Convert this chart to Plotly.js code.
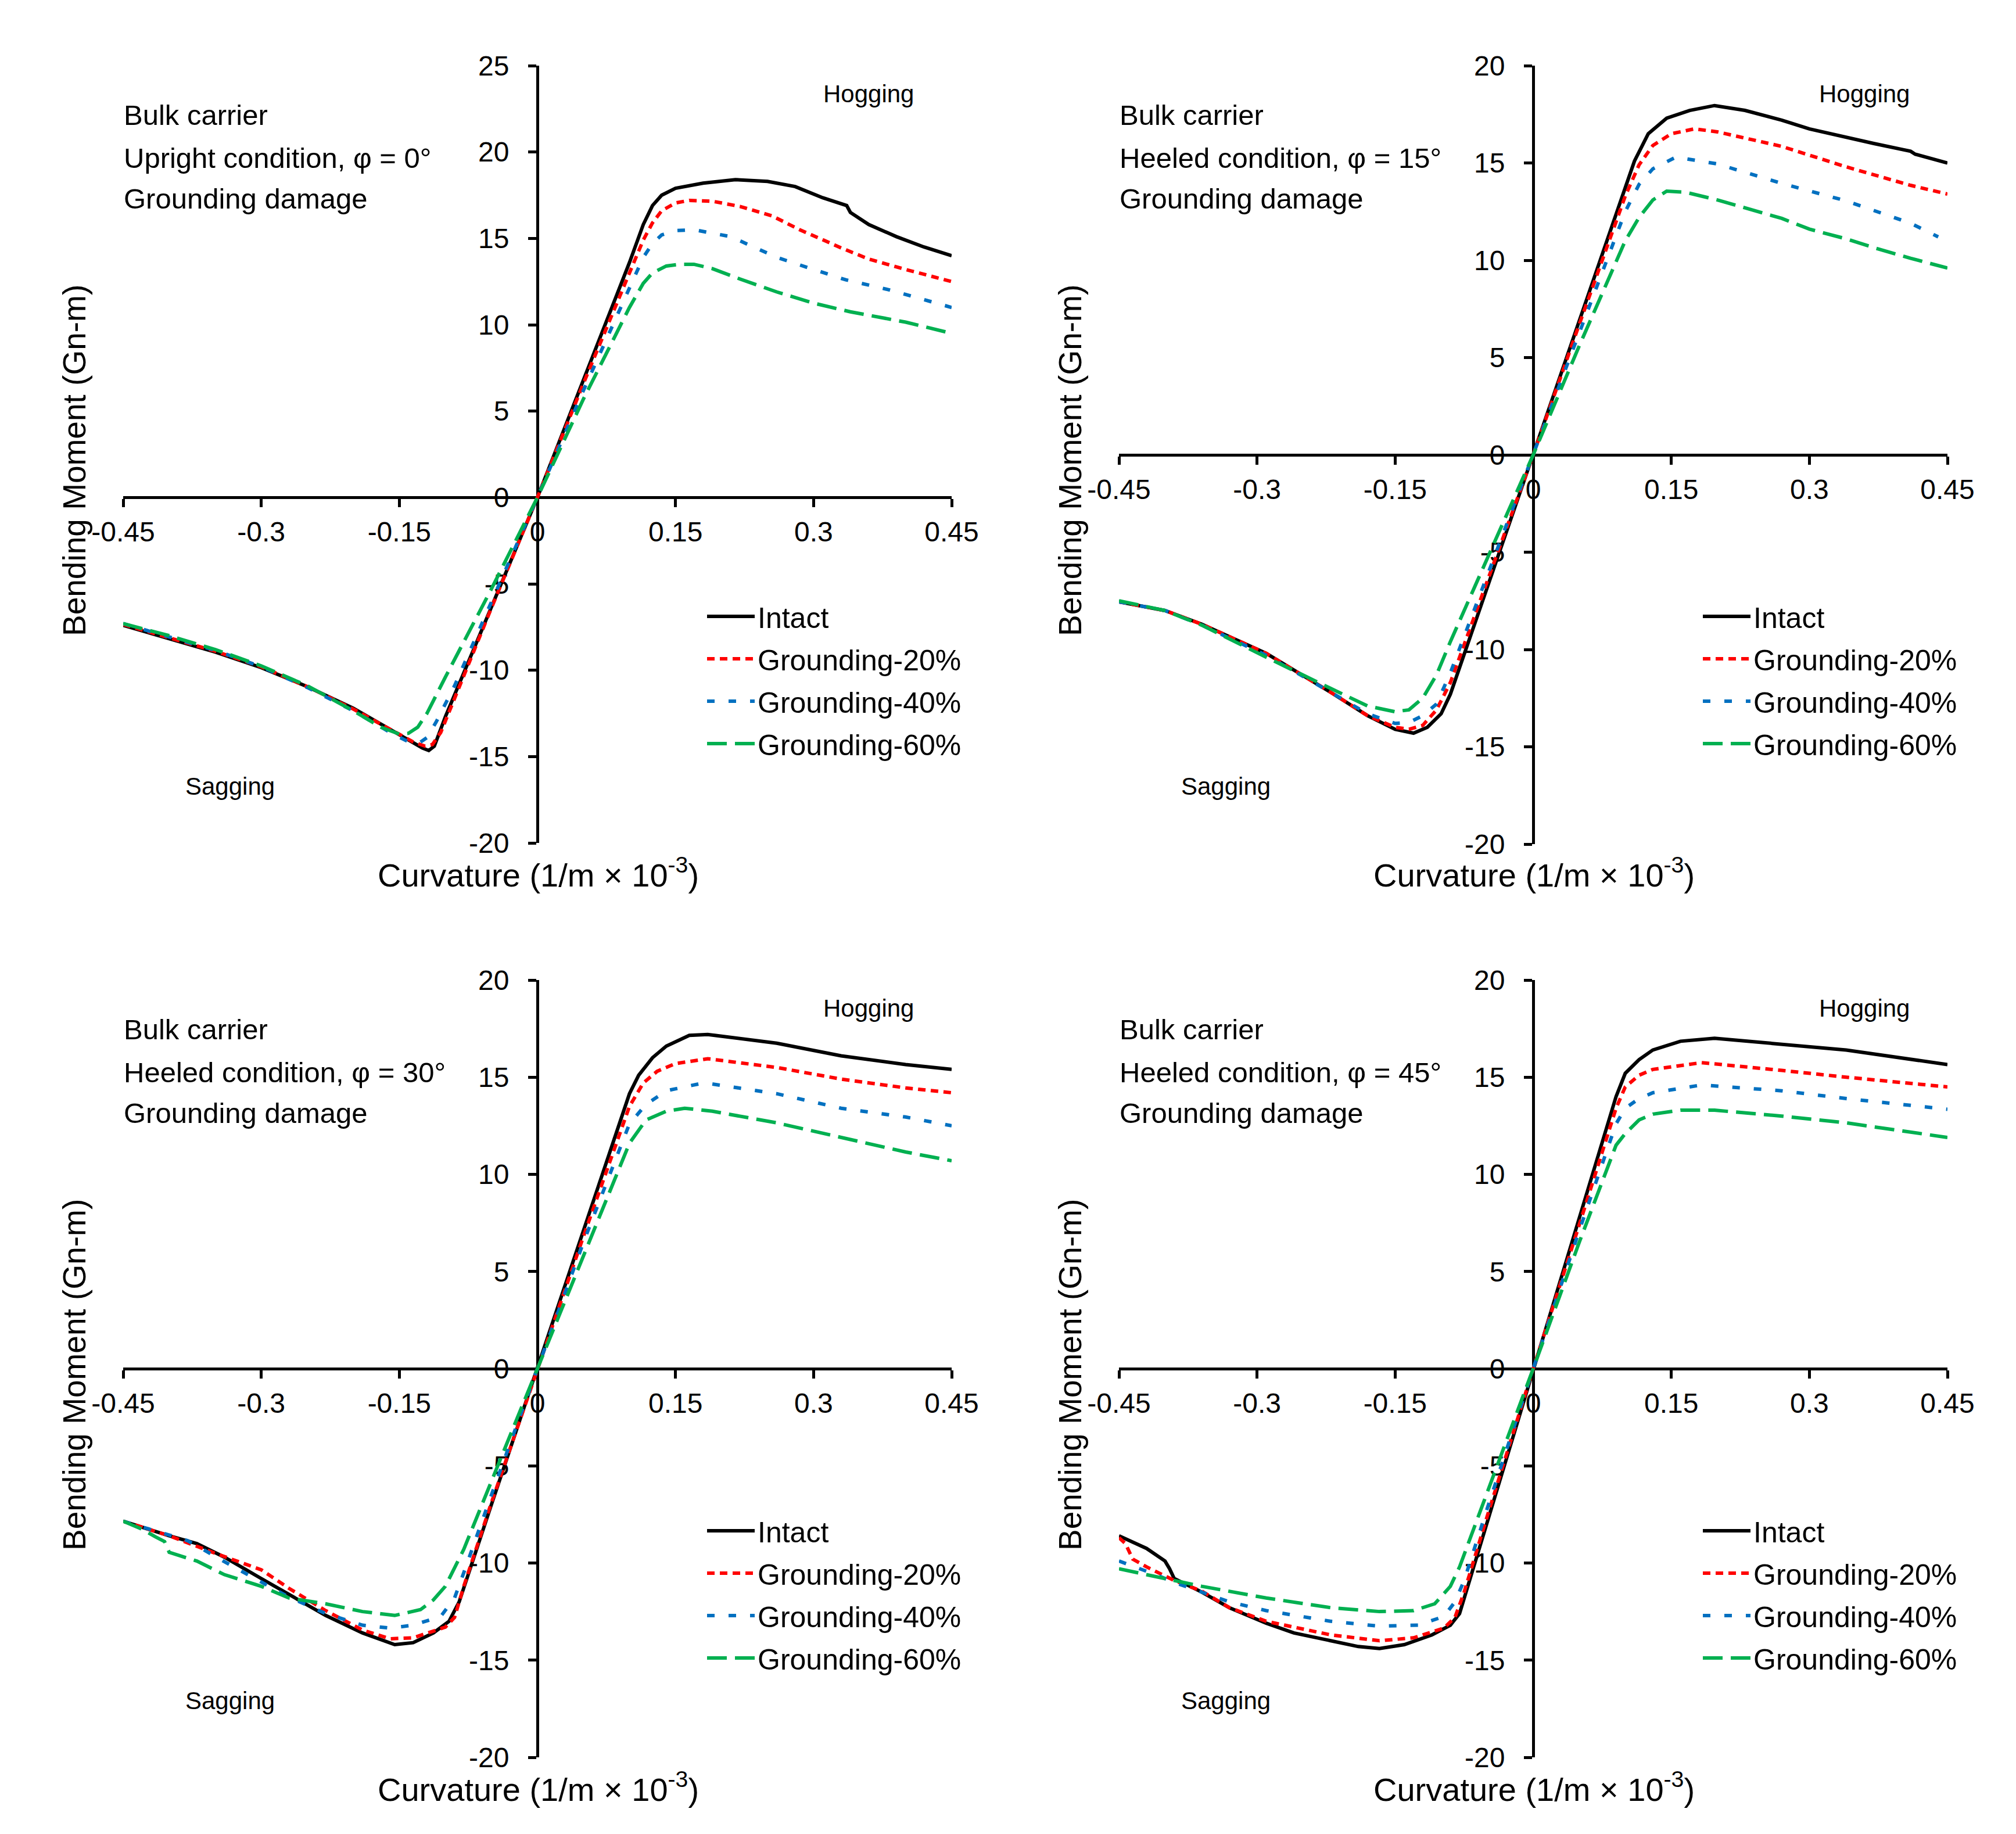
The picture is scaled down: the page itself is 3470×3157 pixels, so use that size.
<!DOCTYPE html>
<html><head><meta charset="utf-8">
<script src="https://cdn.plot.ly/plotly-3.0.1.min.js"></script>
<style>html,body{margin:0;padding:0;background:#fff}</style>
</head><body><div id="chart" style="width:3470px;height:3157px"></div>
<script>
// ---------- DATA ----------
const seriesNames = ['Intact', 'Grounding-20%', 'Grounding-40%', 'Grounding-60%'];
const panelTitles = [
  ['Bulk carrier', 'Upright condition, φ = 0°', 'Grounding damage'],
  ['Bulk carrier', 'Heeled condition, φ = 15°', 'Grounding damage'],
  ['Bulk carrier', 'Heeled condition, φ = 30°', 'Grounding damage'],
  ['Bulk carrier', 'Heeled condition, φ = 45°', 'Grounding damage']
];
const xTickVals = [-0.45, -0.3, -0.15, 0, 0.15, 0.3, 0.45];
const xTickText = ['-0.45', '-0.3', '-0.15', '0', '0.15', '0.3', '0.45'];
const yTicksP1 = [-20, -15, -10, -5, 0, 5, 10, 15, 20, 25];
const yTicksOther = [-20, -15, -10, -5, 0, 5, 10, 15, 20];

// Panel 1: upright, phi = 0
const p1IntactX = [-0.45,-0.40,-0.35,-0.30,-0.25,-0.20,-0.16,-0.14,-0.125,-0.118,-0.112,-0.10,-0.05,0,0.05,0.10,0.115,0.125,0.135,0.15,0.18,0.215,0.25,0.28,0.31,0.336,0.34,0.36,0.39,0.42,0.45];
const p1IntactY = [-7.4,-8.15,-8.95,-9.85,-10.95,-12.2,-13.4,-14.0,-14.5,-14.65,-14.4,-12.7,-6.35,0,6.8,13.6,15.8,16.9,17.5,17.9,18.2,18.4,18.3,18.0,17.35,16.9,16.5,15.8,15.1,14.5,14.0];
const p1G20X = [-0.45,-0.40,-0.35,-0.30,-0.25,-0.20,-0.16,-0.135,-0.122,-0.114,-0.105,-0.09,-0.05,0,0.05,0.10,0.115,0.125,0.135,0.15,0.165,0.19,0.22,0.255,0.285,0.33,0.36,0.40,0.45];
const p1G20Y = [-7.35,-8.1,-8.9,-9.8,-10.95,-12.25,-13.45,-14.15,-14.4,-14.3,-13.6,-11.6,-6.4,0,6.6,13.0,14.9,15.9,16.6,17.05,17.2,17.15,16.85,16.3,15.5,14.45,13.8,13.2,12.5];
const p1G40X = [-0.45,-0.40,-0.35,-0.30,-0.25,-0.20,-0.16,-0.14,-0.128,-0.12,-0.11,-0.09,-0.05,0,0.05,0.10,0.115,0.125,0.135,0.15,0.17,0.21,0.23,0.26,0.30,0.335,0.38,0.45];
const p1G40Y = [-7.3,-8.05,-8.85,-9.8,-11.0,-12.35,-13.6,-14.15,-14.2,-13.9,-13.0,-10.9,-6.1,0,6.2,12.2,13.9,14.7,15.2,15.45,15.5,15.1,14.6,13.9,13.2,12.6,12.05,11.0];
const p1G60X = [-0.45,-0.40,-0.35,-0.30,-0.25,-0.20,-0.17,-0.15,-0.14,-0.13,-0.12,-0.10,-0.05,0,0.05,0.10,0.115,0.125,0.14,0.155,0.17,0.19,0.22,0.26,0.30,0.34,0.40,0.45];
const p1G60Y = [-7.3,-8.0,-8.8,-9.75,-10.9,-12.35,-13.3,-13.7,-13.65,-13.3,-12.5,-10.4,-5.3,0,5.7,11.0,12.4,13.0,13.4,13.5,13.5,13.25,12.65,11.9,11.25,10.75,10.15,9.5];

// Panel 2: heeled, phi = 15
const p2IntactX = [-0.45,-0.40,-0.36,-0.29,-0.22,-0.18,-0.15,-0.13,-0.115,-0.10,-0.09,-0.05,0,0.05,0.10,0.11,0.125,0.145,0.17,0.197,0.23,0.27,0.30,0.34,0.37,0.41,0.415,0.45];
const p2IntactY = [-7.55,-8.0,-8.7,-10.2,-12.2,-13.4,-14.1,-14.3,-14.0,-13.3,-12.3,-6.8,0,6.9,13.8,15.1,16.5,17.3,17.7,17.95,17.7,17.2,16.75,16.3,16.0,15.6,15.45,15.0];
const p2G20X = [-0.45,-0.40,-0.36,-0.29,-0.22,-0.18,-0.15,-0.135,-0.12,-0.105,-0.09,-0.05,0,0.05,0.10,0.115,0.13,0.15,0.175,0.20,0.27,0.34,0.41,0.45];
const p2G20Y = [-7.55,-8.0,-8.7,-10.2,-12.2,-13.4,-14.0,-14.1,-13.9,-13.1,-11.7,-6.5,0,6.7,13.3,14.9,15.9,16.5,16.75,16.6,15.85,14.8,13.85,13.4];
const p2G40X = [-0.45,-0.40,-0.36,-0.29,-0.22,-0.18,-0.15,-0.135,-0.12,-0.105,-0.09,-0.05,0,0.05,0.10,0.115,0.13,0.155,0.20,0.27,0.34,0.41,0.44];
const p2G40Y = [-7.55,-8.0,-8.75,-10.3,-12.2,-13.3,-13.8,-13.75,-13.4,-12.8,-11.2,-6.2,0,6.3,12.5,13.9,14.7,15.3,14.95,13.95,13.05,11.9,11.2];
const p2G60X = [-0.45,-0.40,-0.36,-0.29,-0.22,-0.18,-0.15,-0.135,-0.12,-0.105,-0.09,-0.05,0,0.05,0.10,0.115,0.13,0.145,0.165,0.20,0.27,0.30,0.34,0.37,0.41,0.45];
const p2G60Y = [-7.5,-8.0,-8.75,-10.4,-12.0,-12.9,-13.2,-13.1,-12.5,-11.3,-9.6,-5.3,0,5.6,11.0,12.2,13.1,13.55,13.5,13.1,12.15,11.6,11.1,10.65,10.1,9.6];

// Panel 3: heeled, phi = 30
const p3IntactX = [-0.45,-0.40,-0.37,-0.34,-0.30,-0.23,-0.19,-0.155,-0.135,-0.113,-0.096,-0.085,-0.05,0,0.05,0.10,0.11,0.125,0.14,0.165,0.185,0.26,0.33,0.40,0.45];
const p3IntactY = [-7.85,-8.6,-9.0,-9.7,-10.8,-12.7,-13.6,-14.2,-14.1,-13.6,-13.0,-12.0,-7.0,0,7.1,14.15,15.1,16.0,16.6,17.15,17.2,16.75,16.1,15.65,15.4];
const p3G20X = [-0.45,-0.40,-0.35,-0.30,-0.27,-0.23,-0.19,-0.16,-0.135,-0.10,-0.09,-0.08,-0.05,0,0.05,0.10,0.115,0.13,0.15,0.185,0.26,0.33,0.40,0.45];
const p3G20Y = [-7.85,-8.6,-9.5,-10.35,-11.3,-12.45,-13.45,-13.9,-13.85,-13.3,-12.8,-11.2,-6.9,0,6.8,13.5,14.7,15.3,15.7,15.95,15.5,14.9,14.45,14.2];
const p3G40X = [-0.45,-0.40,-0.38,-0.33,-0.27,-0.23,-0.19,-0.16,-0.135,-0.105,-0.09,-0.08,-0.05,0,0.05,0.10,0.118,0.14,0.175,0.19,0.26,0.33,0.40,0.45];
const p3G40Y = [-7.85,-8.55,-8.85,-10.2,-11.75,-12.6,-13.2,-13.35,-13.2,-12.75,-11.8,-10.5,-6.5,0,6.5,12.6,13.6,14.3,14.65,14.65,14.15,13.4,12.95,12.5];
const p3G60X = [-0.45,-0.43,-0.415,-0.405,-0.40,-0.37,-0.34,-0.30,-0.27,-0.23,-0.19,-0.155,-0.127,-0.113,-0.10,-0.08,-0.05,0,0.05,0.10,0.118,0.14,0.16,0.19,0.26,0.33,0.40,0.45];
const p3G60Y = [-7.85,-8.25,-8.65,-8.9,-9.45,-9.9,-10.6,-11.2,-11.8,-12.1,-12.5,-12.7,-12.4,-11.9,-11.2,-9.3,-5.8,0,5.9,11.6,12.8,13.25,13.4,13.25,12.65,11.9,11.15,10.7];

// Panel 4: heeled, phi = 45
const p4IntactX = [-0.45,-0.42,-0.40,-0.395,-0.39,-0.36,-0.33,-0.29,-0.26,-0.22,-0.19,-0.167,-0.14,-0.11,-0.09,-0.08,-0.05,0,0.05,0.09,0.10,0.115,0.13,0.16,0.197,0.27,0.34,0.45];
const p4IntactY = [-8.6,-9.25,-9.9,-10.3,-10.8,-11.5,-12.3,-13.1,-13.6,-14.0,-14.3,-14.4,-14.2,-13.7,-13.2,-12.6,-7.9,0,7.7,14.0,15.2,15.9,16.4,16.85,17.0,16.7,16.4,15.65];
const p4G20X = [-0.45,-0.443,-0.435,-0.42,-0.39,-0.36,-0.33,-0.29,-0.22,-0.167,-0.13,-0.097,-0.085,-0.075,-0.05,0,0.05,0.09,0.10,0.115,0.13,0.183,0.27,0.34,0.45];
const p4G20Y = [-8.7,-9.0,-9.8,-10.2,-10.9,-11.45,-12.3,-13.0,-13.7,-14.0,-13.85,-13.35,-12.8,-11.5,-7.6,0,7.4,13.4,14.5,15.1,15.4,15.75,15.35,15.0,14.5];
const p4G40X = [-0.45,-0.41,-0.39,-0.36,-0.33,-0.29,-0.22,-0.167,-0.125,-0.097,-0.085,-0.075,-0.05,0,0.05,0.09,0.10,0.115,0.13,0.183,0.27,0.34,0.45];
const p4G40Y = [-9.9,-10.6,-11.0,-11.5,-12.0,-12.45,-13.0,-13.25,-13.2,-12.75,-12.0,-10.9,-7.2,0,7.1,12.6,13.4,13.9,14.2,14.6,14.3,13.9,13.35];
const p4G60X = [-0.45,-0.39,-0.36,-0.29,-0.22,-0.167,-0.13,-0.107,-0.09,-0.08,-0.05,0,0.05,0.09,0.10,0.115,0.13,0.16,0.197,0.27,0.34,0.45];
const p4G60Y = [-10.3,-10.9,-11.2,-11.8,-12.3,-12.5,-12.45,-12.1,-11.2,-10.2,-6.4,0,6.5,11.5,12.1,12.8,13.1,13.3,13.3,13.0,12.65,11.9];

// ---------- BUILD ----------
const W = 3470, H = 3157;
const FONT = 'Liberation Sans, Arial, Helvetica, sans-serif';
const styles = [
  {color: '#000000', dash: 'solid', width: 6},
  {color: '#ff0000', dash: '13px,9px', width: 6},
  {color: '#0070c0', dash: '13px,24px', width: 6},
  {color: '#00b050', dash: '34px,14px', width: 6}
];
const panelData = [
  [[p1IntactX,p1IntactY],[p1G20X,p1G20Y],[p1G40X,p1G40Y],[p1G60X,p1G60Y]],
  [[p2IntactX,p2IntactY],[p2G20X,p2G20Y],[p2G40X,p2G40Y],[p2G60X,p2G60Y]],
  [[p3IntactX,p3IntactY],[p3G20X,p3G20Y],[p3G40X,p3G40Y],[p3G60X,p3G60Y]],
  [[p4IntactX,p4IntactY],[p4G20X,p4G20Y],[p4G40X,p4G40Y],[p4G60X,p4G60Y]]
];
// pixel placement of each panel's plot area
const panels = [
  {px: [212, 1638], py: [113, 1451], yr: [-20, 25], yt: yTicksP1, dx: 0, dy: 0},
  {px: [1926, 3352], py: [113, 1453], yr: [-20, 20], yt: yTicksOther, dx: 1714, dy: 0},
  {px: [212, 1638], py: [1687, 3025], yr: [-20, 20], yt: yTicksOther, dx: 0, dy: 1574},
  {px: [1926, 3352], py: [1687, 3025], yr: [-20, 20], yt: yTicksOther, dx: 1714, dy: 1574}
];
const fx = p => p / W;
const fy = p => 1 - p / H;

const data = [];
const layout = {
  width: W, height: H,
  margin: {l: 0, r: 0, t: 0, b: 0},
  paper_bgcolor: '#ffffff', plot_bgcolor: 'rgba(0,0,0,0)',
  font: {family: FONT, color: '#000000', size: 48},
  annotations: [],
  showlegend: true
};

panels.forEach((P, i) => {
  const n = i + 1;
  const xa = n === 1 ? 'xaxis' : 'xaxis' + n;
  const ya = n === 1 ? 'yaxis' : 'yaxis' + n;
  const xr = n === 1 ? 'x' : 'x' + n;
  const yrf = n === 1 ? 'y' : 'y' + n;
  const lg = n === 1 ? 'legend' : 'legend' + n;
  const xd = [fx(P.px[0]), fx(P.px[1])];
  const yd = [fy(P.py[1]), fy(P.py[0])];
  const xPos0 = xd[0] + (0 - (-0.45)) / 0.9 * (xd[1] - xd[0]);
  const yPos0 = yd[0] + (0 - P.yr[0]) / (P.yr[1] - P.yr[0]) * (yd[1] - yd[0]);
  const common = {
    showline: true, linecolor: '#000', linewidth: 5,
    ticks: 'outside', ticklen: 14, tickwidth: 5, tickcolor: '#000',
    showgrid: false, zeroline: false, layer: 'below traces',
    tickfont: {family: FONT, size: 48, color: '#000'}, fixedrange: true
  };
  layout[xa] = Object.assign({}, common, {
    domain: xd, range: [-0.45, 0.45], anchor: 'free', position: yPos0,
    tickmode: 'array', tickvals: xTickVals, ticktext: xTickText, ticklabelstandoff: 1
  });
  layout[ya] = Object.assign({}, common, {
    domain: yd, range: P.yr, anchor: 'free', position: xPos0,
    tickmode: 'array', tickvals: P.yt, ticktext: P.yt.map(String), ticklabelstandoff: 23
  });
  panelData[i].forEach((s, k) => {
    data.push({
      type: 'scatter', mode: 'lines', x: s[0], y: s[1],
      xaxis: xr, yaxis: yrf, name: seriesNames[k], legend: lg,
      legendgroup: 'g' + n + '_' + k,
      line: {color: styles[k].color, dash: styles[k].dash, width: styles[k].width},
      hoverinfo: 'skip'
    });
  });
  layout[lg] = {
    x: fx(1212 + P.dx), y: fy(1022 + P.dy), xanchor: 'left', yanchor: 'top',
    bgcolor: 'rgba(0,0,0,0)', borderwidth: 0,
    font: {family: FONT, size: 50, color: '#000'},
    traceorder: 'grouped', tracegroupgap: 5, itemwidth: 82
  };
  const A = layout.annotations;
  const lines = panelTitles[i];
  [198, 272, 342].forEach((yy, j) => {
    A.push({xref: 'paper', yref: 'paper', x: fx(211 + P.dx), y: fy(yy + P.dy),
      xanchor: 'left', yanchor: 'middle', showarrow: false, text: lines[j],
      font: {family: FONT, size: 49, color: '#000'}});
  });
  A.push({xref: 'paper', yref: 'paper', x: fx(1495 + P.dx), y: fy(161 + P.dy),
    xanchor: 'center', yanchor: 'middle', showarrow: false, text: 'Hogging',
    font: {family: FONT, size: 42, color: '#000'}});
  A.push({xref: 'paper', yref: 'paper', x: fx(396 + P.dx), y: fy(1353 + P.dy),
    xanchor: 'center', yanchor: 'middle', showarrow: false, text: 'Sagging',
    font: {family: FONT, size: 42, color: '#000'}});
  A.push({xref: 'paper', yref: 'paper', x: fx(128 + P.dx), y: fy(793 + P.dy),
    xanchor: 'center', yanchor: 'middle', showarrow: false, textangle: -90,
    text: 'Bending Moment (Gn-m)', font: {family: FONT, size: 55, color: '#000'}});
  A.push({xref: 'paper', yref: 'paper', x: fx(926 + P.dx), y: fy(1502 + P.dy),
    xanchor: 'center', yanchor: 'middle', showarrow: false,
    text: 'Curvature (1/m × 10<sup>-3</sup>)', font: {family: FONT, size: 56, color: '#000'}});
});

Plotly.newPlot('chart', data, layout, {staticPlot: true, displayModeBar: false});
</script></body></html>
